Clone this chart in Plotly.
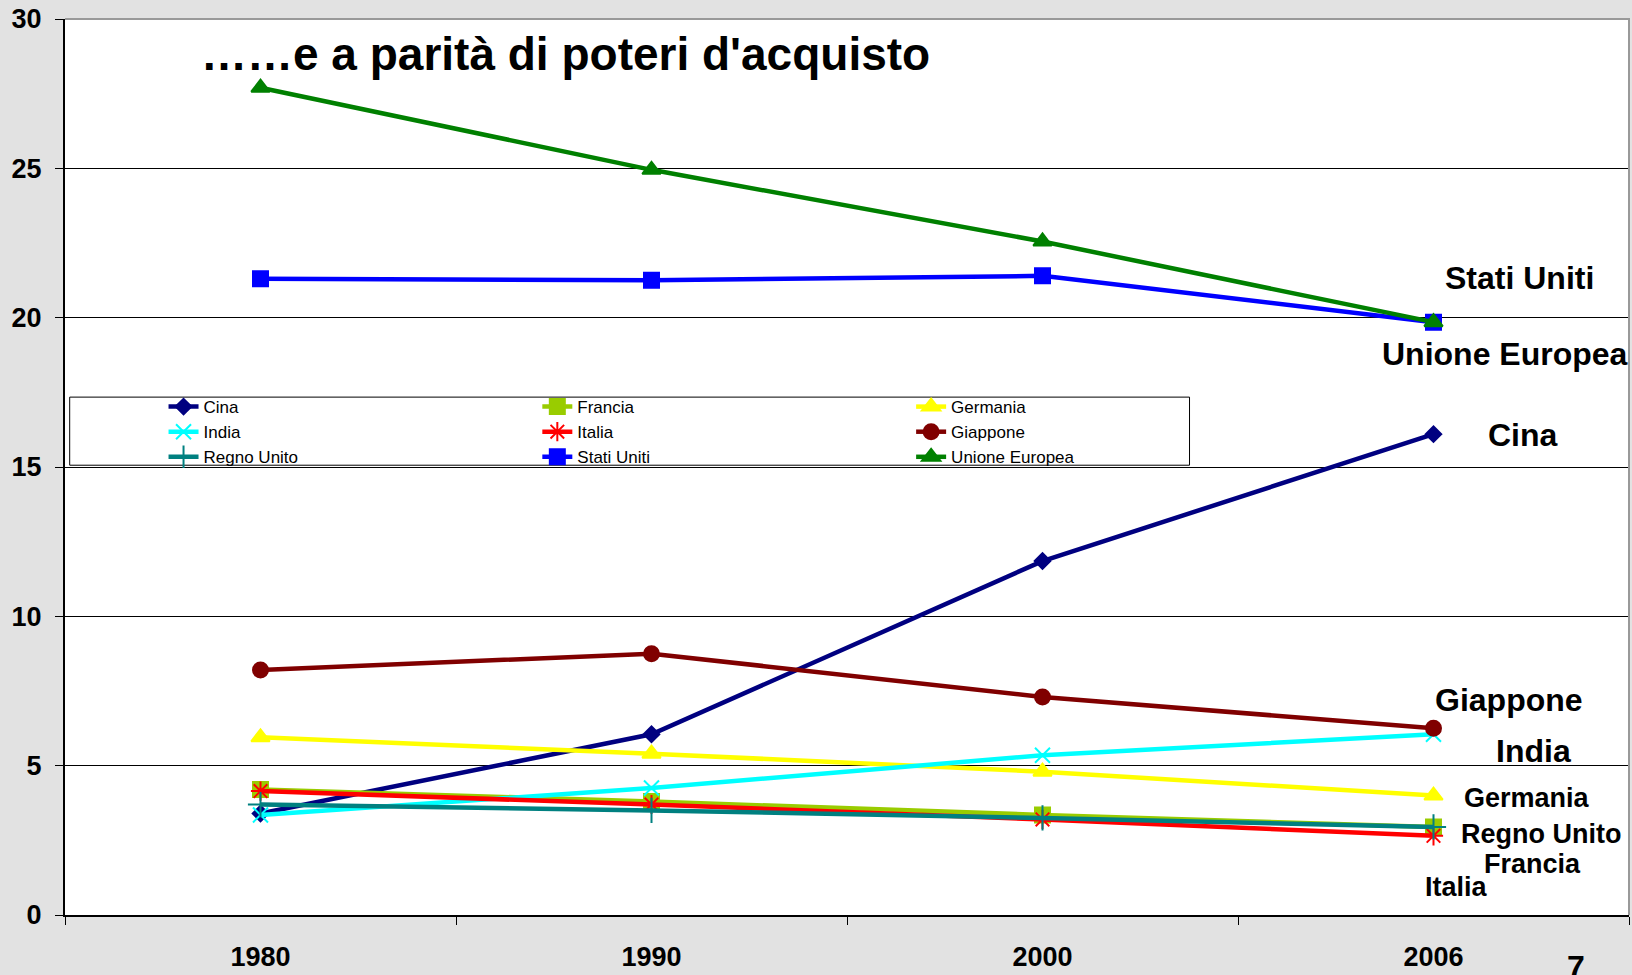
import plotly.graph_objects as go

years = ["1980", "1990", "2000", "2006"]
cina = [3.4, 6.05, 11.85, 16.1]
francia = [4.2, 3.8, 3.35, 2.95]
germania = [5.95, 5.4, 4.8, 4.0]
india = [3.35, 4.25, 5.35, 6.05]
italia = [4.15, 3.7, 3.2, 2.65]
giappone = [8.2, 8.75, 7.3, 6.25]
regno_unito = [3.7, 3.5, 3.25, 2.95]
stati_uniti = [21.3, 21.25, 21.4, 19.85]
unione_europea = [27.7, 24.95, 22.55, 19.85]

# name, values, colour, symbol, size, legend column
series = [
    ("Cina", cina, "#000080", "diamond", 12, "legend"),
    ("Francia", francia, "#99CC00", "square", 15, "legend2"),
    ("Germania", germania, "#FFFF00", "triangle-up", 16, "legend3"),
    ("India", india, "#00FFFF", "x-thin-open", 15, "legend"),
    ("Italia", italia, "#FF0000", "asterisk-open", 16, "legend2"),
    ("Giappone", giappone, "#800000", "circle", 15, "legend3"),
    ("Regno Unito", regno_unito, "#008080", "cross-thin-open", 18, "legend"),
    ("Stati Uniti", stati_uniti, "#0000FF", "square", 15, "legend2"),
    ("Unione Europea", unione_europea, "#008000", "triangle-up", 16, "legend3"),
]

BOLD = "Liberation Sans, Arial"

fig = go.Figure()
for name, vals, color, sym, size, leg in series:
    fig.add_trace(go.Scatter(
        x=years, y=vals, name=name, mode="lines+markers", legend=leg,
        line=dict(color=color, width=4.5),
        marker=dict(symbol=sym, size=size, color=color,
                    line=dict(color=color, width=2)),
    ))

labels = [
    ("Stati Uniti", 0.930, 0.711, 32),
    ("Unione Europea", 0.921, 0.626, 32),
    ("Cina", 0.932, 0.536, 32),
    ("Giappone", 0.923, 0.240, 32),
    ("India", 0.939, 0.183, 32),
    ("Germania", 0.935, 0.131, 27),
    ("Regno Unito", 0.944, 0.090, 27),
    ("Francia", 0.938, 0.057, 27),
    ("Italia", 0.890, 0.031, 27),
]
annotations = [
    dict(text="<b>%s</b>" % t, x=x, y=y, xref="paper", yref="paper",
         showarrow=False, font=dict(family=BOLD, size=s, color="black"),
         xanchor="center", yanchor="middle")
    for t, x, y, s in labels
]
annotations.append(dict(text="<b>……e a parità di poteri d'acquisto</b>",
                        x=0.32, y=0.961, xref="paper", yref="paper", showarrow=False,
                        font=dict(family=BOLD, size=46, color="black"),
                        xanchor="center", yanchor="middle"))
annotations.append(dict(text="<b>7</b>", x=0.966, y=-0.058, xref="paper", yref="paper",
                        showarrow=False, font=dict(family=BOLD, size=32, color="black"),
                        xanchor="center", yanchor="middle"))

leg_common = dict(
    bgcolor="rgba(0,0,0,0)", borderwidth=0, orientation="v",
    font=dict(family=BOLD, size=17, color="black"),
    xanchor="left", yanchor="top", y=0.587, itemwidth=30,
)

fig.update_layout(
    width=1632, height=975,
    margin=dict(l=65, r=3, t=19, b=56),
    paper_bgcolor="#e2e2e2",
    plot_bgcolor="white",
    showlegend=True,
    legend=dict(x=0.063, **leg_common),
    legend2=dict(x=0.302, **leg_common),
    legend3=dict(x=0.541, **leg_common),
    annotations=annotations,
    shapes=[
        dict(type="rect", xref="paper", yref="paper", x0=0.003, x1=0.719,
             y0=0.502, y1=0.578, line=dict(color="black", width=1),
             fillcolor="white", layer="below"),
        dict(type="path", xref="paper", yref="paper", path="M 0 1 L 1 1 L 1 0",
             line=dict(color="#999999", width=2), layer="above"),
    ],
    xaxis=dict(
        type="category", range=[-0.5, 3.5], showgrid=False,
        showline=True, linecolor="black", linewidth=2,
        ticks="outside", ticklen=8, tickcolor="black", tickson="boundaries",
        tickfont=dict(family=BOLD, size=27, color="black"),
        ticklabelstandoff=17,
        tickprefix="<b>", ticksuffix="</b>",
    ),
    yaxis=dict(
        range=[0, 30], dtick=5, showgrid=True, gridcolor="black", gridwidth=1,
        showline=True, linecolor="black", linewidth=2, zeroline=False,
        ticks="outside", ticklen=8, tickcolor="black",
        tickfont=dict(family=BOLD, size=27, color="black"),
        ticklabelstandoff=8,
        tickprefix="<b>", ticksuffix="</b>",
    ),
)

fig.write_html(
    "out.html",
    config={"displayModeBar": False},
    post_script="document.body.style.margin='0';document.body.style.padding='0';"
                "document.body.style.overflow='hidden';",
)
